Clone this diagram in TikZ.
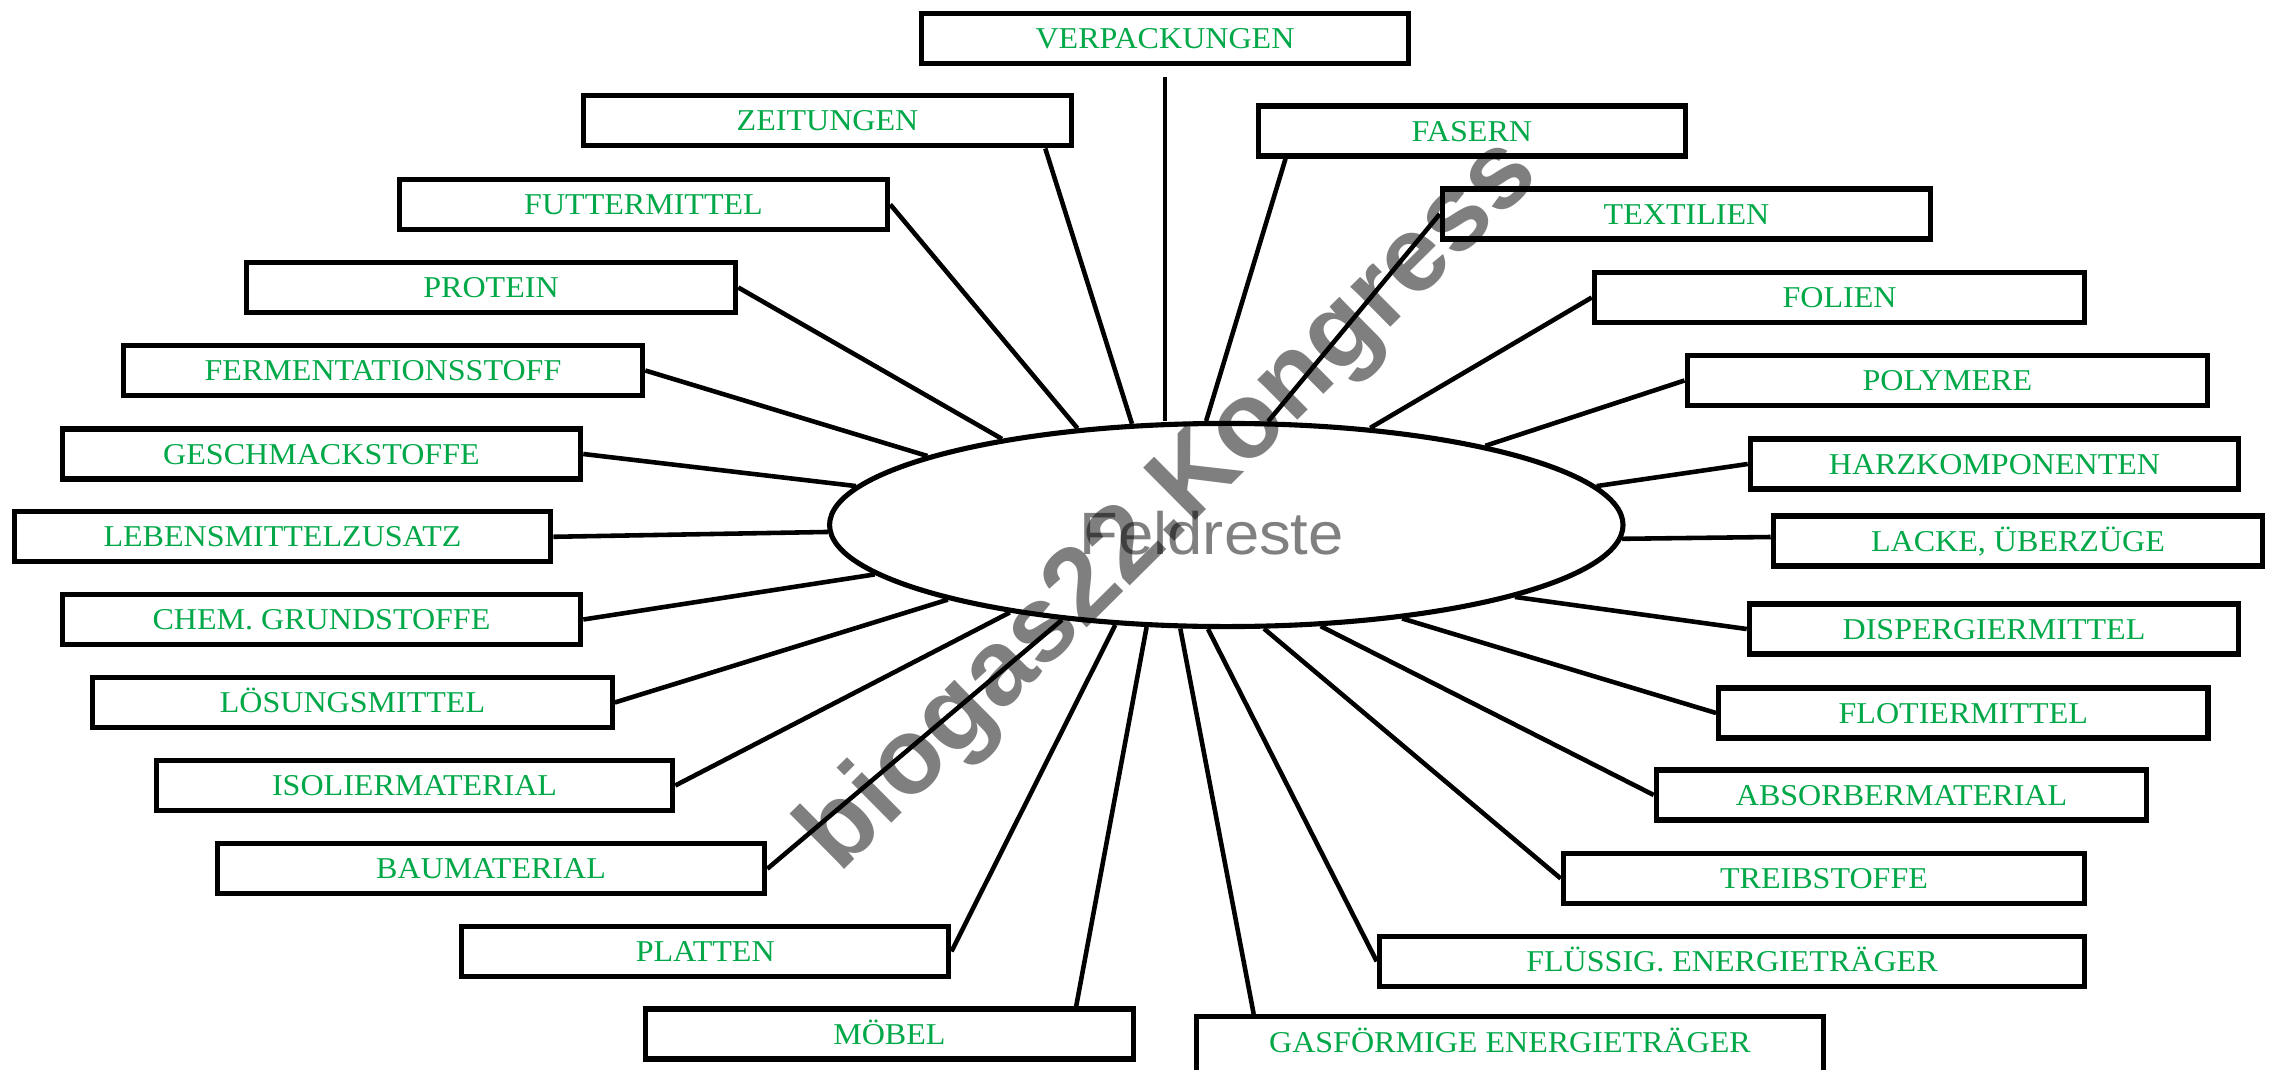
\documentclass[tikz,border=0pt]{standalone}
\usepackage{fontspec}
\usetikzlibrary{shapes.geometric,calc}
\setmainfont{Liberation Serif}
\newfontfamily\lblfont[FakeStretch=1.06]{Liberation Serif}
\newfontfamily\feldfont[FakeStretch=1.06]{Liberation Sans}
\newfontfamily\wmfont{Liberation Sans}
\definecolor{lblgreen}{RGB}{0,168,72}
\begin{document}
\begin{tikzpicture}[x=0.01cm,y=-0.01cm,
  box/.style={draw, line width=1.5pt, fill=white, minimum width=#1, minimum height=0.5cm,
    inner sep=0pt, text=lblgreen, font=\lblfont\fontsize{8.6}{10}\selectfont,
    text height=5.7pt, text depth=0pt},
  conn/.style={line width=1.3pt}]
\clip (0,0) rectangle (2272,1070);
% boxes
\node[box=4.87cm] (verp) at (1165,38.3) {VERPACKUNGEN};
\node[box=4.88cm] (zeit) at (827.5,120.8) {ZEITUNGEN};
\node[box=4.88cm] (futt) at (643.5,204.5) {FUTTERMITTEL};
\node[box=4.89cm] (prot) at (491,287.5) {PROTEIN};
\node[box=5.19cm] (ferm) at (383,370.5) {FERMENTATIONSSTOFF};
\node[box=5.18cm] (gesch) at (321.5,454) {GESCHMACKSTOFFE};
\node[box=5.36cm] (leb) at (282.5,536.8) {LEBENSMITTELZUSATZ};
\node[box=5.18cm] (chem) at (321.5,619.5) {CHEM. GRUNDSTOFFE};
\node[box=5.19cm] (loes) at (352.5,702.5) {LÖSUNGSMITTEL};
\node[box=5.16cm] (isol) at (414.5,785.5) {ISOLIERMATERIAL};
\node[box=5.47cm] (bau) at (491,868.8) {BAUMATERIAL};
\node[box=4.87cm] (plat) at (705.2,951.4) {PLATTEN};
\node[box=4.88cm] (moeb) at (889.4,1034) {MÖBEL};
\node[box=6.27cm, minimum height=0.58cm, text depth=1.8pt] (gas) at (1510,1045.7) {GASFÖRMIGE ENERGIETRÄGER};
\node[box=7.05cm] (flue) at (1732,961.3) {FLÜSSIG. ENERGIETRÄGER};
\node[box=5.21cm] (treib) at (1824,878.5) {TREIBSTOFFE};
\node[box=4.90cm] (absorb) at (1901.5,795) {ABSORBERMATERIAL};
\node[box=4.89cm] (flot) at (1963.3,713) {FLOTIERMITTEL};
\node[box=4.89cm] (disp) at (1994,629) {DISPERGIERMITTEL};
\node[box=4.89cm] (lacke) at (2018,541) {LACKE, ÜBERZÜGE};
\node[box=4.88cm] (harz) at (1994.5,464) {HARZKOMPONENTEN};
\node[box=5.20cm] (poly) at (1947.3,380.5) {POLYMERE};
\node[box=4.90cm] (folien) at (1839.5,297.5) {FOLIEN};
\node[box=4.88cm] (textil) at (1686.5,214) {TEXTILIEN};
\node[box=4.27cm] (fasern) at (1471.8,131) {FASERN};
% central ellipse
\node[draw, ellipse, line width=1.45pt, fill=white, minimum width=7.93cm, minimum height=2.03cm, inner sep=0pt] (e) at (1226.3,525) {};
\node[anchor=base west, inner sep=0pt, text=black!50, font=\feldfont\fontsize{17}{20}\selectfont] (feld) at (1079,554) {Feldreste};
% connectors
\coordinate (vtop) at (1165,77);
\draw[conn] (vtop) -- (vtop |- e.north);
\draw[conn] ($(zeit.south east)+(-29,0)$) -- (e.133.6);
\draw[conn] (futt.east) -- (e.147.1);
\draw[conn] (prot.east) -- (e.159.2);
\draw[conn] (ferm.east) -- (e.167.2);
\draw[conn] (gesch.east) -- (e.174.7);
\draw[conn] (leb.east) -- (e.181.7);
\draw[conn] (chem.east) -- (e.188.2);
\draw[conn] (loes.east) -- (e.195.4);
\draw[conn] (isol.east) -- (e.202.7);
\draw[conn] (bau.east) -- (e.210.5);
\draw[conn] (plat.east) -- (e.222.2);
\draw[conn] ($(moeb.north east)+(-60,0)$) -- (e.232.7);
\draw[conn] ($(gas.north west)+(60,0)$) -- (e.246.5);
\draw[conn] (flue.west) -- (e.260.2);
\draw[conn] (treib.west) -- (e.290.1);
\draw[conn] (absorb.west) -- (e.313.8);
\draw[conn] (flot.west) -- (e.332.1);
\draw[conn] (disp.west) -- (e.346.2);
\draw[conn] ($(lacke.west)+(0,-4)$) -- (e.358.3);
\draw[conn] (harz.west) -- (e.6.3);
\draw[conn] (poly.west) -- (e.17.6);
\draw[conn] (folien.west) -- (e.34.5);
\draw[conn] (textil.west) -- (e.68.1);
\draw[conn] ($(fasern.south west)+(30,0)$) -- (e.101.5);
% watermark
\node[anchor=base west, rotate=44.8, inner sep=0pt, text=black, text opacity=0.5,
  font=\wmfont\bfseries\fontsize{30.5}{36}\selectfont] (wm) at (839,875) {biogas22.Kongress};
\end{tikzpicture}
\end{document}
